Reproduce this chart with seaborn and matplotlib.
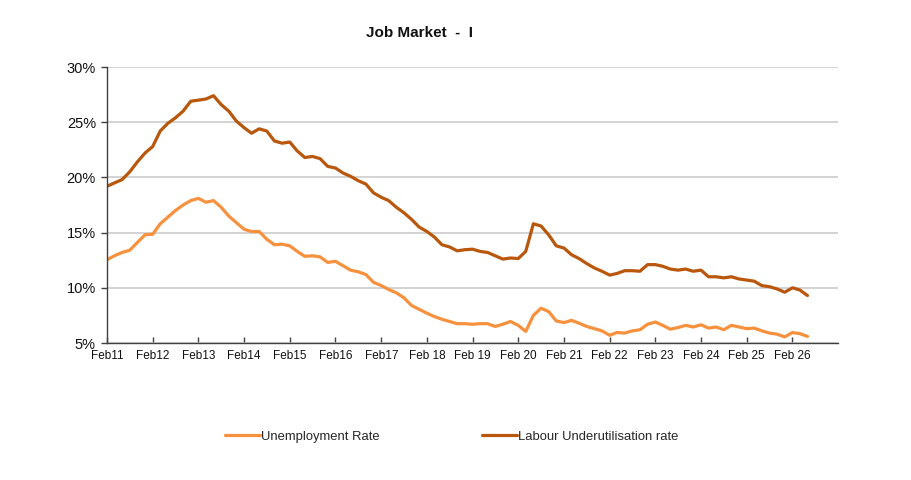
import pandas as pd
import seaborn as sns
import matplotlib.pyplot as plt
from matplotlib.ticker import FuncFormatter

# values read every 2 months from Feb 2011 to Jun 2026
unemployment = [
    12.55, 12.9, 13.2, 13.4, 14.1, 14.8, 14.85, 15.8, 16.4, 17.0,
    17.5, 17.9, 18.1, 17.75, 17.9, 17.3, 16.5, 15.9, 15.3, 15.1,
    15.1, 14.4, 13.9, 13.95, 13.8, 13.3, 12.85, 12.9, 12.8, 12.3,
    12.4, 12.0, 11.6, 11.45, 11.2, 10.5, 10.2, 9.85, 9.55, 9.1,
    8.4, 8.05, 7.7, 7.4, 7.15, 6.95, 6.75, 6.75, 6.7, 6.75,
    6.75, 6.5, 6.7, 6.95, 6.6, 6.05, 7.5, 8.15, 7.85, 7.0,
    6.85, 7.05, 6.8, 6.5, 6.3, 6.1, 5.7, 5.95, 5.9, 6.1,
    6.2, 6.7, 6.9, 6.6, 6.25, 6.4, 6.6, 6.45, 6.65, 6.35,
    6.45, 6.2, 6.6, 6.45, 6.3, 6.35, 6.1, 5.9, 5.8, 5.55,
    5.95, 5.85, 5.6,
]
underutilisation = [
    19.2, 19.5, 19.8, 20.5, 21.4, 22.2, 22.8, 24.2, 24.9, 25.4,
    26.0, 26.9, 27.0, 27.1, 27.4, 26.6, 26.0, 25.1, 24.5, 24.0,
    24.4, 24.2, 23.3, 23.1, 23.2, 22.4, 21.8, 21.9, 21.7, 21.0,
    20.85, 20.4, 20.1, 19.7, 19.4, 18.6, 18.2, 17.9, 17.3, 16.8,
    16.2, 15.5, 15.1, 14.6, 13.9, 13.7, 13.35, 13.45, 13.5, 13.3,
    13.2, 12.9, 12.6, 12.7, 12.65, 13.3, 15.8, 15.6, 14.8, 13.8,
    13.6, 13.0, 12.65, 12.2, 11.8, 11.5, 11.15, 11.3, 11.55, 11.55,
    11.5, 12.1, 12.1, 11.95, 11.7, 11.6, 11.7, 11.5, 11.6, 11.0,
    11.0, 10.9, 11.0, 10.8, 10.7, 10.6, 10.2, 10.1, 9.9, 9.6,
    10.0, 9.8, 9.3,
]
dates = pd.date_range("2011-02-01", periods=len(unemployment), freq="2MS")

tick_years = list(range(2011, 2027))
tick_labels = [f"Feb{y % 100}" if y < 2018 else f"Feb {y % 100}" for y in tick_years]

series_names = ["Unemployment Rate", "Labour Underutilisation rate"]
colours = ["#F7913D", "#B9570C"]

df = pd.concat([
    pd.DataFrame({"date": dates, "rate": unemployment, "series": series_names[0]}),
    pd.DataFrame({"date": dates, "rate": underutilisation, "series": series_names[1]}),
])

sns.set_style("white")
plt.rcParams["font.family"] = ["Liberation Sans", "DejaVu Sans"]

fig = plt.figure(figsize=(9.11, 4.8), dpi=100)
ax = fig.add_axes([0.1175, 0.2854, 0.8025, 0.575])

sns.lineplot(data=df, x="date", y="rate", hue="series", palette=colours,
             hue_order=series_names, linewidth=2.3, ax=ax, legend=False)

ax.set_ylim(5, 30)
ax.set_yticks([5, 10, 15, 20, 25, 30])
ax.yaxis.set_major_formatter(FuncFormatter(lambda v, p: f"{v:.0f}%"))
ax.set_xlim(pd.Timestamp("2011-02-01"), pd.Timestamp("2027-02-01"))
ax.set_xticks([pd.Timestamp(f"{y}-02-01") for y in tick_years])
ax.set_xticklabels(tick_labels)
ax.grid(axis="y", color="#c8c8c8", linewidth=1.1)
ax.set_axisbelow(True)
ax.set_xlabel("")
ax.set_ylabel("")

for s in ["top", "right"]:
    ax.spines[s].set_visible(False)
for s in ["left", "bottom"]:
    ax.spines[s].set_color("#404040")
    ax.spines[s].set_linewidth(1.0)

ax.tick_params(axis="y", direction="out", length=4, width=1, color="#404040",
               labelsize=10.5, labelcolor="#111111", pad=4, left=True)
ax.tick_params(axis="x", direction="in", length=4, width=1, color="#404040",
               labelsize=8.5, labelcolor="#111111", pad=5, bottom=True)

fig.text(0.461, 0.931, "Job Market  -  I", ha="center", va="center",
         fontsize=11, fontweight="bold", color="#111111")

handles = [plt.Line2D([], [], color=c, linewidth=2.3) for c in colours]
fig.legend(handles, series_names, loc="center", bbox_to_anchor=(0.496, 0.09),
           ncol=2, frameon=False, fontsize=9.4, handlelength=2.7,
           handletextpad=0.1, columnspacing=7.8)

fig.savefig("out.png", dpi=100)
